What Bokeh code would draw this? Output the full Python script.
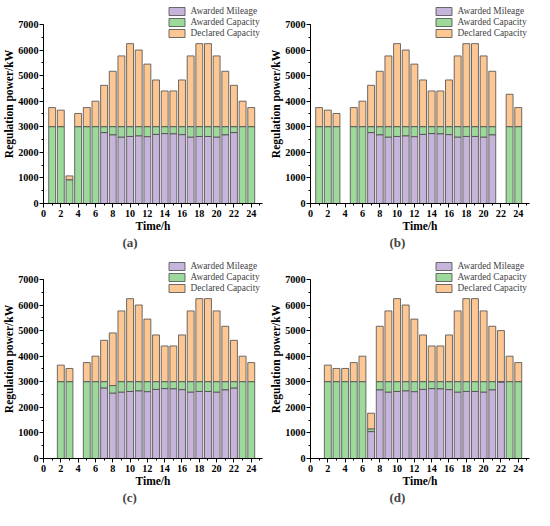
from bokeh.plotting import figure
from bokeh.models import Range1d, SingleIntervalTicker, Legend, LegendItem, ColumnDataSource
from bokeh.layouts import gridplot
from bokeh.embed import file_html
from bokeh.resources import INLINE

hours = list(range(1, 25))

declared_a = [3750, 3650, 1080, 3520, 3750, 4000, 4620, 5170, 5770, 6250, 6000, 5450,
              4830, 4400, 4400, 4830, 5770, 6250, 6250, 5770, 5170, 4620, 4000, 3750]
capacity_a = [3000, 3000, 920, 3000, 3000, 3000, 3000, 3000, 3000, 3000, 3000, 3000,
              3000, 3000, 3000, 3000, 3000, 3000, 3000, 3000, 3000, 3000, 3000, 3000]
mileage_a = [0, 0, 0, 0, 0, 0, 2770, 2680, 2590, 2620, 2640, 2610,
             2700, 2730, 2720, 2690, 2590, 2620, 2620, 2590, 2680, 2770, 0, 0]

declared_b = [3750, 3650, 3520, None, 3750, 4000, 4620, 5170, 5770, 6250, 6000, 5450,
              4830, 4400, 4400, 4830, 5770, 6250, 6250, 5770, 5170, None, 4270, 3750]
capacity_b = [3000, 3000, 3000, None, 3000, 3000, 3000, 3000, 3000, 3000, 3000, 3000,
              3000, 3000, 3000, 3000, 3000, 3000, 3000, 3000, 3000, None, 3000, 3000]
mileage_b = [0, 0, 0, 0, 0, 0, 2770, 2680, 2590, 2620, 2640, 2610,
             2700, 2730, 2720, 2690, 2590, 2620, 2620, 2590, 2680, 0, 0, 0]

declared_c = [None, 3650, 3520, None, 3750, 4000, 4620, 4910, 5770, 6250, 6000, 5450,
              4830, 4400, 4400, 4830, 5770, 6250, 6250, 5770, 5170, 4620, 4000, 3750]
capacity_c = [None, 3000, 3000, None, 3000, 3000, 3000, 2850, 3000, 3000, 3000, 3000,
              3000, 3000, 3000, 3000, 3000, 3000, 3000, 3000, 3000, 3000, 3000, 3000]
mileage_c = [0, 0, 0, 0, 0, 0, 2750, 2550, 2590, 2620, 2640, 2610,
             2700, 2730, 2720, 2690, 2590, 2620, 2620, 2590, 2680, 2750, 0, 0]

declared_d = [None, 3650, 3520, 3520, 3750, 4000, 1770, 5170, 5770, 6250, 6000, 5450,
              4830, 4400, 4400, 4830, 5770, 6250, 6250, 5770, 5170, 5000, 4000, 3750]
capacity_d = [None, 3000, 3000, 3000, 3000, 3000, 1150, 3000, 3000, 3000, 3000, 3000,
              3000, 3000, 3000, 3000, 3000, 3000, 3000, 3000, 3000, 3000, 3000, 3000]
mileage_d = [0, 0, 0, 0, 0, 0, 1050, 2680, 2590, 2620, 2640, 2610,
             2700, 2730, 2720, 2690, 2590, 2620, 2620, 2590, 2680, 2980, 0, 0]

panel_labels = ["(a)", "(b)", "(c)", "(d)"]
series_names = ["Awarded Mileage", "Awarded Capacity", "Declared Capacity"]
x_label = "Time/h"
y_label = "Regulation power/kW"

PURPLE = "#C6B4DA"
GREEN = "#9DD99B"
ORANGE = "#FDC793"
EDGE = "#4a4a4a"
FONT = "Liberation Serif"


def make_panel(declared, capacity, mileage, label):
    xs, dec_t, dec_b, cap_t, cap_b, mil_t = [], [], [], [], [], []
    for h, d, c, m in zip(hours, declared, capacity, mileage):
        if d is None:
            continue
        xs.append(h)
        dec_t.append(d)
        dec_b.append(c)
        cap_t.append(c)
        cap_b.append(m)
        mil_t.append(m)
    src = ColumnDataSource(dict(x=xs, dt=dec_t, db=dec_b, ct=cap_t, cb=cap_b, mt=mil_t))
    msrc = ColumnDataSource(dict(x=[x for x, m in zip(xs, mil_t) if m > 0],
                                 mt=[m for m in mil_t if m > 0]))

    p = figure(width=267, height=255, output_backend="svg", toolbar_location=None,
               x_range=Range1d(0, 25.3), y_range=Range1d(0, 7780),
               min_border_left=38, min_border_right=5, min_border_top=4, min_border_bottom=52)
    p.grid.visible = False
    p.outline_line_color = None

    r_dec = p.vbar(x="x", top="dt", bottom="db", width=0.8, source=src,
                   fill_color=ORANGE, line_color=EDGE, line_width=0.8)
    r_cap = p.vbar(x="x", top="ct", bottom="cb", width=0.8, source=src,
                   fill_color=GREEN, line_color=EDGE, line_width=0.8)
    r_mil = p.vbar(x="x", top="mt", bottom=0, width=0.8, source=msrc,
                   fill_color=PURPLE, line_color=EDGE, line_width=0.8)

    p.xaxis.ticker = SingleIntervalTicker(interval=2, num_minor_ticks=2)
    p.yaxis.ticker = SingleIntervalTicker(interval=1000, num_minor_ticks=2)
    p.yaxis.bounds = (0, 7000)
    for ax in (p.xaxis, p.yaxis):
        ax.axis_line_color = "black"
        ax.axis_line_width = 1
        ax.major_tick_in = 0
        ax.major_tick_out = 4
        ax.minor_tick_in = 0
        ax.minor_tick_out = 2
        ax.major_tick_line_color = "black"
        ax.minor_tick_line_color = "black"
        ax.major_label_text_font = FONT
        ax.major_label_text_font_style = "bold"
        ax.major_label_text_font_size = "10.2px"
        ax.major_label_text_color = "black"
        ax.major_label_standoff = 1
        ax.axis_label_text_font = FONT
        ax.axis_label_text_font_style = "bold"
        ax.axis_label_text_font_size = "11.5px"
        ax.axis_label_text_color = "black"
        ax.axis_label_standoff = 0
    p.xaxis.major_label_standoff = 2
    p.xaxis.axis_label = x_label
    p.yaxis.axis_label = y_label

    p.title.text = label
    p.title_location = "below"
    p.title.align = "left"
    p.title.offset = 79
    p.title.standoff = 0
    p.title.vertical_align = "top"
    p.title.text_font = FONT
    p.title.text_font_style = "bold"
    p.title.text_font_size = "13px"

    legend = Legend(items=[LegendItem(label=series_names[0], renderers=[r_mil]),
                           LegendItem(label=series_names[1], renderers=[r_cap]),
                           LegendItem(label=series_names[2], renderers=[r_dec])],
                    location="top_right", orientation="vertical",
                    glyph_width=20, glyph_height=10, label_height=10,
                    spacing=1, padding=0, margin=2, label_standoff=4,
                    label_text_font=FONT, label_text_font_size="9.4px",
                    border_line_color=None, background_fill_alpha=0)
    p.add_layout(legend, "center")
    return p


p1 = make_panel(declared_a, capacity_a, mileage_a, panel_labels[0])
p2 = make_panel(declared_b, capacity_b, mileage_b, panel_labels[1])
p3 = make_panel(declared_c, capacity_c, mileage_c, panel_labels[2])
p4 = make_panel(declared_d, capacity_d, mileage_d, panel_labels[3])

grid = gridplot([[p1, p2], [p3, p4]], toolbar_location=None)
open("out.html", "w").write(file_html(grid, INLINE))
